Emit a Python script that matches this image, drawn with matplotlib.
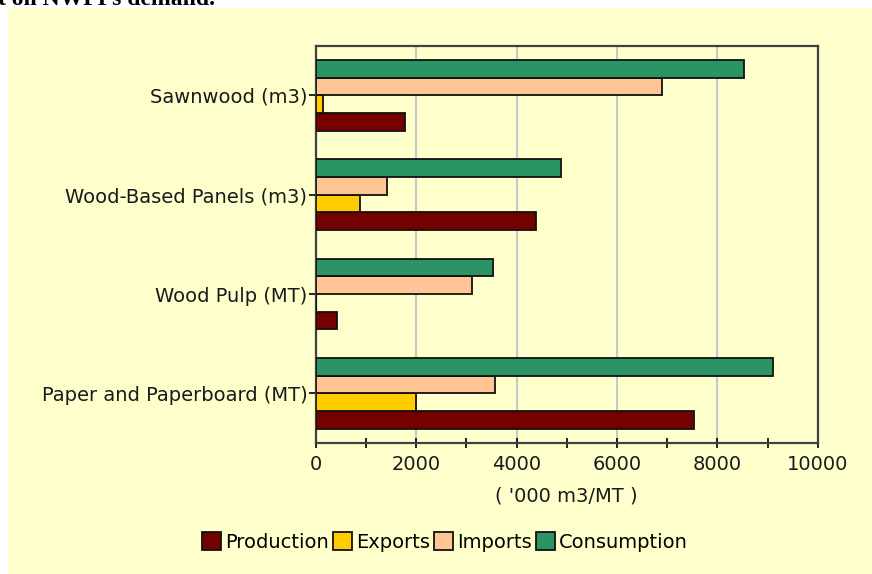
import numpy as np
import matplotlib.pyplot as plt
from matplotlib.patches import Rectangle

categories = ['Sawnwood (m3)', 'Wood-Based Panels (m3)', 'Wood Pulp (MT)', 'Paper and Paperboard (MT)']
production = [1780, 4390, 425, 7540]
exports = [140, 880, 0, 2000]
imports = [6890, 1420, 3110, 3580]
consumption = [8530, 4890, 3540, 9100]

series = [('Production', production, '#740000'),
          ('Exports', exports, '#FFCC00'),
          ('Imports', imports, '#FFC594'),
          ('Consumption', consumption, '#2A9464')]

bg = '#FFFFCC'
plt.rcParams['font.family'] = ['DejaVu Sans']

fig = plt.figure(figsize=(8.72, 5.74), dpi=100)
fig.patch.set_facecolor('white')
# yellow panel behind the chart, leaves a white strip at top/left
fig.patches.append(Rectangle((8 / 872, 0), 1, 1 - 8 / 574, transform=fig.transFigure,
                             facecolor=bg, edgecolor='none', zorder=-10))
# cut-off caption line from the page above
fig.text(-0.002, 1.001, 't on NWFPs demand.', family='Liberation Serif', fontsize=17,
         fontweight='bold', va='center', ha='left')

ax = fig.add_axes([315.7 / 872, 1 - 443 / 574, 502 / 872, 397.3 / 574])
ax.set_facecolor(bg)

y = np.arange(len(categories))
h = 0.178
offsets = [1.5 * h, 0.5 * h, -0.5 * h, -1.5 * h]
for (name, vals, col), off in zip(series, offsets):
    ax.barh(y + off, vals, height=h, color=col, edgecolor='#111111', linewidth=1.3,
            label=name, zorder=3)

ax.set_xlim(0, 10000)
ax.set_ylim(3.5, -0.5)
ax.set_xticks(np.arange(0, 10001, 2000))
ax.set_xticks(np.arange(1000, 10000, 2000), minor=True)
ax.set_yticks(y)
ax.set_yticklabels(categories, fontsize=14, color='#1a1a1a')
ax.tick_params(axis='x', which='both', direction='inout', length=7, width=1.2,
               labelsize=14, labelcolor='#1a1a1a', pad=5)
ax.tick_params(axis='y', direction='out', length=5, width=1.2, pad=1)
ax.grid(axis='x', which='major', color='#C8C8C8', linewidth=1.5, zorder=0)
for s in ax.spines.values():
    s.set_color('#404040')
    s.set_linewidth(1.6)

ax.set_xlabel("( '000 m3/MT )", fontsize=14, color='#1a1a1a', labelpad=9)

handles, labels = ax.get_legend_handles_labels()
fig.legend(handles, labels, loc='center', bbox_to_anchor=(0.51, 0.056), ncol=4,
           frameon=False, fontsize=14, handlelength=1.0, handleheight=1.0,
           handletextpad=0.2, columnspacing=0.2)

fig.savefig('out.png', dpi=100, facecolor=fig.get_facecolor())
